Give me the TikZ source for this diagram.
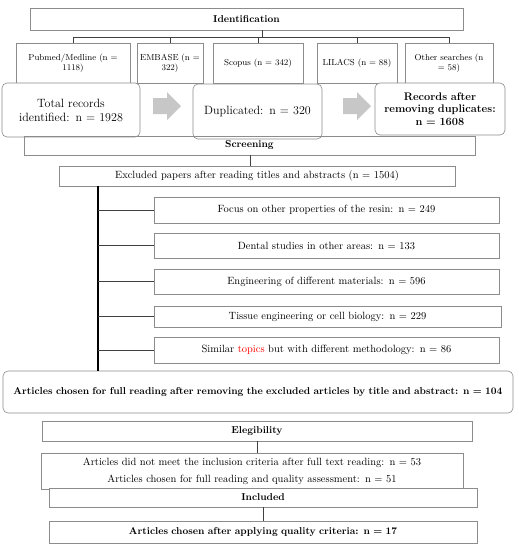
\documentclass[tikz,border=0pt]{standalone}
\usepackage{tikz}
\tikzset{
  bx/.style={draw=black!45, line width=0.6pt, inner sep=1pt, align=center, font=\fontsize{10.5}{12}\selectfont},
  bbx/.style={bx, font=\fontsize{10}{12}\selectfont\bfseries},
  rbx/.style={bx, rounded corners=5pt, fill=white},
  src/.style={bx, fill=white, font=\fontsize{8.7}{10}\selectfont},
  conn/.style={draw=black!75, line width=0.6pt},
  thick conn/.style={draw=black, line width=1.2pt},
  garrow/.style={fill=black!22, draw=none},
}
\newcommand{\bxat}[7]{%
  \node[#6, minimum width={(#4-#2)*1pt}, minimum height={(#5-#3)*1pt}, text width={(#4-#2-4)*1pt}]
    (#1) at ({(#2+#4)/2*1pt},{-(#3+#5)/2*1pt}) {#7};}
\begin{document}
\begin{tikzpicture}[x=1pt,y=1pt]
\useasboundingbox (0,0) rectangle (519,-550);
% Identification
\bxat{ident}{30}{8}{463}{30}{bbx}{Identification}
% source boxes
\bxat{pub}{16}{43}{130}{83}{src}{Pubmed/Medline (n =\\ 1118)}
\bxat{emb}{137}{43}{203}{83}{src}{EMBASE (n =\\ 322)}
\bxat{sco}{213}{43}{303}{83}{src}{Scopus (n = 342)}
\bxat{lil}{317}{43}{397}{83}{src}{LILACS (n = 88)}
\bxat{oth}{405}{43}{493}{83}{src}{Other searches (n\\ = 58)}
\coordinate (bus) at (262,-37);
\draw[conn] (ident.south -| bus) -- (bus);
\draw[conn] (pub.north |- bus) -- (oth.north |- bus);
\foreach \n in {pub,emb,sco,lil,oth} \draw[conn] (\n.north |- bus) -- (\n.north);
% rounded summary boxes
\bxat{tot}{2}{83}{140}{137}{rbx, font=\fontsize{12}{14}\selectfont}{Total records\\ identified: n = 1928}
\bxat{dup}{193}{84}{322}{139}{rbx, font=\fontsize{12}{14}\selectfont}{Duplicated: n = 320}
\bxat{rec}{375}{83}{505}{135}{rbx, font=\fontsize{11}{12.5}\selectfont\bfseries}{Records after\\ removing duplicates:\\ n = 1608}
% grey block arrows
\fill[garrow] (153,-98) -- (167,-98) -- (167,-92) -- (181,-106) -- (167,-120) -- (167,-114) -- (153,-114) -- cycle;
\fill[garrow] (343,-98) -- (357,-98) -- (357,-92) -- (371,-106) -- (357,-120) -- (357,-114) -- (343,-114) -- cycle;
% Screening
\bxat{scr}{24}{136}{475}{155}{bbx}{Screening}
\bxat{exc}{59}{166}{455}{186}{bx}{Excluded papers after reading titles and abstracts (n = 1504)}
\draw[conn] (scr.south -| 250,0) -- (exc.north -| 250,0);
\bxat{e1}{154}{197}{499}{223}{bx}{Focus on other properties of the resin: n = 249}
\bxat{e2}{154}{233}{499}{258}{bx}{Dental studies in other areas: n = 133}
\bxat{e3}{154}{269}{499}{294}{bx}{Engineering of different materials: n = 596}
\bxat{e4}{154}{306}{501}{327}{bx}{Tissue engineering or cell biology: n = 229}
\bxat{e5}{154}{337}{499}{363}{bx}{Similar \textcolor{red}{topics} but with different methodology: n = 86}
% Articles chosen
\bxat{art}{3}{371}{513}{413}{bbx, rounded corners=5pt, fill=white}{Articles chosen for full reading after removing the excluded articles by title and abstract: n = 104}
\coordinate (spine) at (98,0);
\draw[thick conn] (exc.south -| spine) -- (art.north -| spine);
\foreach \n in {e1,e2,e3,e4,e5} \draw[conn] (\n.west -| spine) -- (\n.west);
% Elegibility
\bxat{eleg}{42}{421}{472}{441}{bbx}{Elegibility}
\bxat{did}{41}{453}{463}{489}{bx, font=\fontsize{10.5}{17}\selectfont}{Articles did not meet the inclusion criteria after full text reading: n = 53\\ Articles chosen for full reading and quality assessment: n = 51}
\draw[conn] (eleg.south -| 257,0) -- (did.north -| 257,0);
\bxat{incl}{49}{488}{477}{507}{bbx, fill=white}{Included}
\bxat{fin}{49}{521}{477}{543}{bbx}{Articles chosen after applying quality criteria: n = 17}
\draw[conn] (incl.south -| 263,0) -- (fin.north -| 263,0);
\end{tikzpicture}
\end{document}
